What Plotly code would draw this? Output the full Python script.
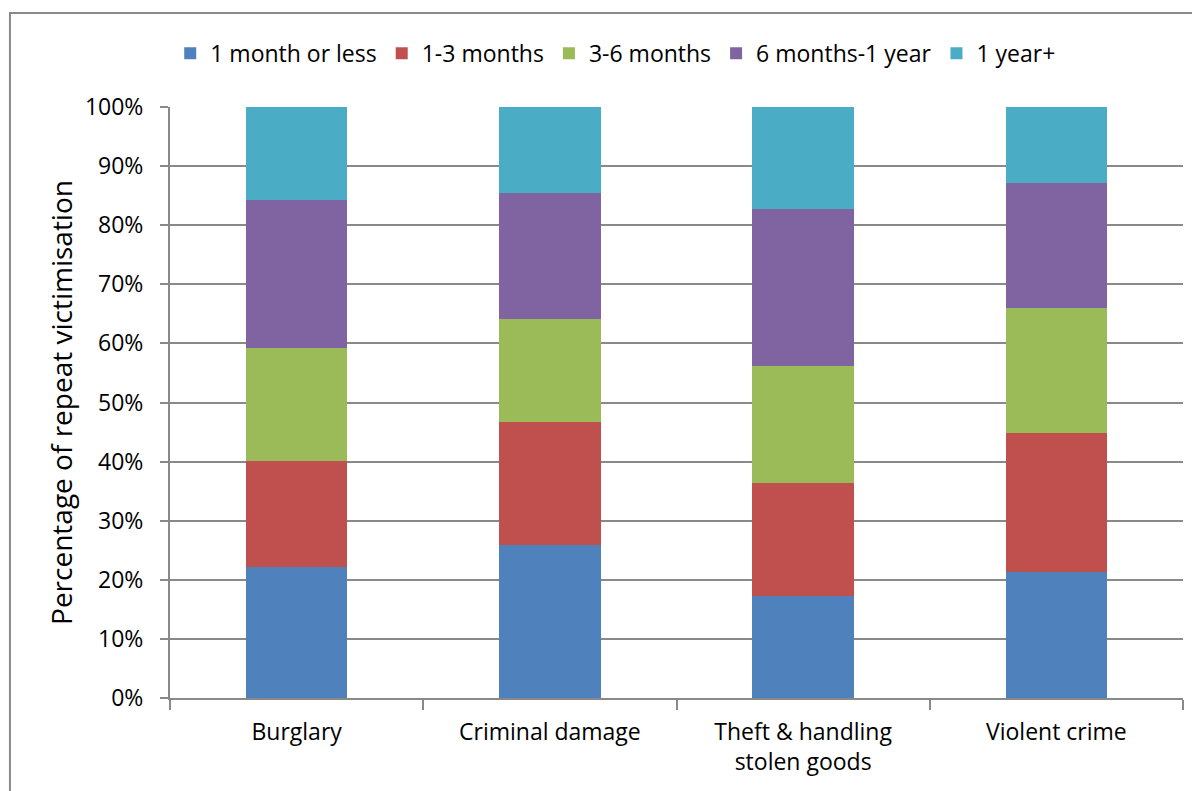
import plotly.graph_objects as go

crime_types = ["Burglary", "Criminal damage", "Theft & handling<br>stolen goods", "Violent crime"]

month_or_less = [22.2, 25.9, 17.3, 21.3]
one_to_three = [17.9, 20.8, 19.1, 23.5]
three_to_six = [19.1, 17.4, 19.8, 21.2]
six_to_year = [25.1, 21.3, 26.5, 21.1]
year_plus = [15.7, 14.6, 17.3, 12.9]

series = [
    ("1 month or less", month_or_less, "#4F81BD"),
    ("1-3 months", one_to_three, "#C0504D"),
    ("3-6 months", three_to_six, "#9BBB59"),
    ("6 months-1 year", six_to_year, "#8064A2"),
    ("1 year+", year_plus, "#4BACC6"),
]

fig = go.Figure()
for name, vals, col in series:
    fig.add_trace(go.Bar(x=crime_types, y=vals, name=name, marker_color=col,
                         marker_line_width=0))

grey = "#898989"
# page body has an 8px margin, so margins are shifted to compensate
fig.update_layout(
    width=1200, height=791,
    barmode="stack", bargap=0.6,
    plot_bgcolor="white", paper_bgcolor="white",
    font=dict(family="Open Sans", size=23, color="black"),
    margin=dict(l=162, r=25, t=99, b=101),
    legend=dict(orientation="h", traceorder="normal", x=0.44, xanchor="center",
                y=1.091, yanchor="middle", font=dict(size=23)),
    xaxis=dict(showline=True, linecolor=grey, linewidth=2, ticks="outside",
               tickson="boundaries", ticklen=10, tickcolor=grey, tickwidth=2,
               showgrid=False, ticklabelstandoff=12),
    yaxis=dict(range=[0, 100], dtick=10, ticksuffix="%", showline=True,
               linecolor=grey, linewidth=2, ticks="outside", ticklen=8,
               tickcolor=grey, tickwidth=2, gridcolor=grey, gridwidth=2,
               zeroline=False, ticklabelstandoff=12,
               title=dict(text="Percentage of repeat victimisation", standoff=4)),
)

# outer chart frame like the original spreadsheet chart
fig.add_shape(type="rect", xref="paper", yref="paper",
              x0=-0.158, x1=1.1, y0=-0.3, y1=1.159,
              line=dict(color=grey, width=2))

fig.write_html("out.html")
